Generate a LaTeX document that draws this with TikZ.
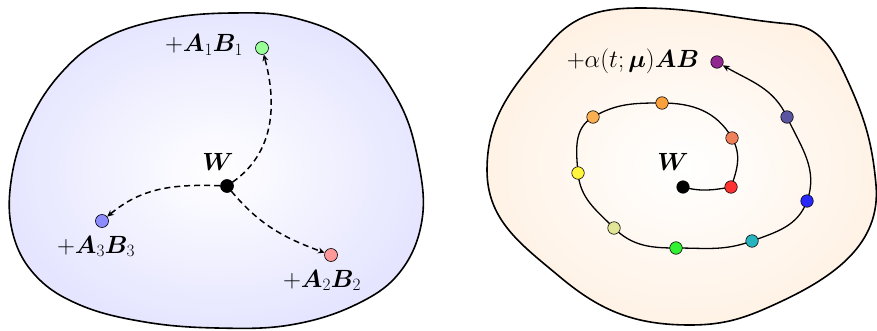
\documentclass[tikz,border=0pt]{standalone}
\usepackage{amsmath,bm}
\usetikzlibrary{arrows.meta}
\pgfdeclarelayer{back}
\pgfdeclarelayer{mid}
\pgfsetlayers{back,mid,main}
\definecolor{s1}{RGB}{255,50,50}
\definecolor{s2}{RGB}{240,128,90}
\definecolor{s3}{RGB}{250,160,60}
\definecolor{s4}{RGB}{250,175,80}
\definecolor{s5}{RGB}{255,245,60}
\definecolor{s6}{RGB}{225,230,150}
\definecolor{s7}{RGB}{50,240,50}
\definecolor{s8}{RGB}{40,180,190}
\definecolor{s9}{RGB}{40,40,250}
\definecolor{s10}{RGB}{90,85,160}
\definecolor{s11}{RGB}{145,40,145}
\begin{document}
\begin{tikzpicture}[x=1pt,y=1pt,
  blob/.style={draw=black, line width=1.6pt, inner color=white, outer color=#1},
  dot/.style={circle, draw=black, line width=0.6pt, inner sep=0pt, minimum size=12.5pt, fill=#1},
  lbl/.style={font=\fontsize{23}{27}\selectfont, inner sep=0pt, anchor=base},
  darr/.style={dash pattern=on 6pt off 4pt, line width=1.5pt, -{Stealth[length=6.5pt,width=6pt,inset=2pt]}},
  sline/.style={line width=1.3pt},
]
\useasboundingbox (0,0) rectangle (877,330);
\begin{pgfonlayer}{back}
\shade[blob=blue!10] plot[smooth cycle, tension=0.65] coordinates {
  (233,317) (165,311) (105,292) (62,258) (30,210) (12,155) (12,100) (35,55)
  (80,25) (145,8) (217,2) (290,5) (355,25) (400,58) (422,110) (418,170)
  (398,230) (355,285) (295,312)};
\shade[blob=orange!10] (640,322) to[out=0,in=175] (790,306)
  to[out=-5,in=115] (845,255)
  to[out=-65,in=95] (876,145)
  to[out=-85,in=25] (780,28)
  to[out=-155,in=0] (690,5)
  to[out=180,in=-40] (560,53)
  to[out=140,in=-90] (487,160)
  to[out=90,in=-130] (550,287)
  to[out=50,in=180] (640,322) -- cycle;
\end{pgfonlayer}
% left
\node[dot=black, minimum size=13pt] (W1) at (227,144) {};
\node[dot=green!40, minimum size=13pt] (g) at (262,282) {};
\node[dot=blue!45, minimum size=13pt] (b) at (102,109) {};
\node[dot=red!40, minimum size=13pt] (r) at (331,75) {};
\node[lbl] (lW1) at (218,160) {$\boldsymbol{W}$};
\node[lbl] (l1) at (204,278) {$+\boldsymbol{A}_1\boldsymbol{B}_1$};
\node[lbl] (l3) at (96,77) {$+\boldsymbol{A}_3\boldsymbol{B}_3$};
\node[lbl] (l2) at (322,43) {$+\boldsymbol{A}_2\boldsymbol{B}_2$};
\begin{pgfonlayer}{mid}
\draw[darr] (W1) to[out=35,in=-75] (g);
\draw[darr] (W1) to[out=178,in=40] (b);
\draw[darr] (W1) to[out=-50,in=160] (r);
\end{pgfonlayer}
% right
\node[dot=black] (W2) at (683,143) {};
\node[dot=s1] (p1) at (731,143) {};
\node[dot=s2] (p2) at (732,192) {};
\node[dot=s3] (p3) at (662,227) {};
\node[dot=s4] (p4) at (593,213) {};
\node[dot=s5] (p5) at (578,157) {};
\node[dot=s6] (p6) at (614,102) {};
\node[dot=s7] (p7) at (676,82) {};
\node[dot=s8] (p8) at (752,89) {};
\node[dot=s9] (p9) at (807,129) {};
\node[dot=s10] (p10) at (787,213) {};
\node[dot=s11] (p11) at (717,268) {};
\node[lbl] (lW2) at (673,160) {$\boldsymbol{W}$};
\node[lbl] (la) at (633,262) {$+\alpha(t;\boldsymbol{\mu})\boldsymbol{AB}$};
\begin{pgfonlayer}{mid}
\draw[sline] (W2.center) to[out=-15,in=190] (p1.center)
  to[out=70,in=-60] (p2.center)
  to[out=120,in=0] (p3.center)
  to[out=180,in=30] (p4.center)
  to[out=210,in=95] (p5.center)
  to[out=275,in=135] (p6.center)
  to[out=315,in=180] (p7.center)
  to[out=0,in=200] (p8.center)
  to[out=20,in=250] (p9.center)
  to[out=70,in=-65] (p10.center);
\draw[sline, -{Stealth[length=7pt,width=6pt,inset=2pt]}] (p10.center) to[out=115,in=-30] (p11);
\end{pgfonlayer}
\end{tikzpicture}
\end{document}
